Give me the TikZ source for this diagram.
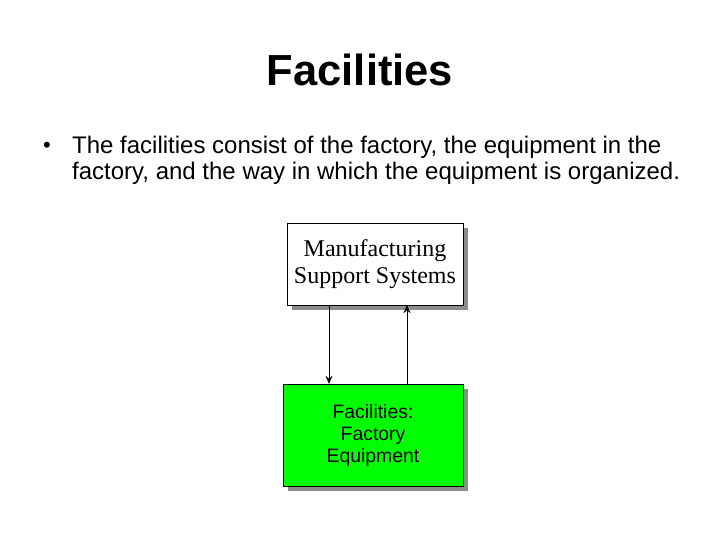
\documentclass[tikz,border=0pt]{standalone}
\usepackage{fontspec}
\setmainfont{Liberation Sans}
\newfontfamily\boxfont{Liberation Serif}
\usetikzlibrary{arrows,arrows.meta,positioning,shadows}

\begin{document}
\begin{tikzpicture}[
    x=1pt, y=-1pt,
    box/.style={rectangle, draw, thin, fill=white, align=center, inner sep=0pt,
        general shadow={fill=gray!90, shadow xshift=5pt, shadow yshift=-5pt}},
    arrow/.style={-{Stealth[length=8pt,width=7pt,inset=3pt]}}
]
\useasboundingbox (0,0) rectangle (720,540);
\node[font=\bfseries\fontsize{43.5}{48}\selectfont] (title) at (360,70) {Facilities};
\node[font=\fontsize{22}{26}\selectfont] (bullet) at (47,147) {\textbullet};
\node[font=\fontsize{24}{26}\selectfont, anchor=west, align=left, inner sep=0pt] (text) at (72,160)
    {The facilities consist of the factory, the equipment in the\\
     factory, and the way in which the equipment is organized.};
\node[box, minimum width=176, minimum height=82, font=\boxfont\fontsize{24}{27}\selectfont] (mss) at (375,264)
    {Manufacturing\\Support Systems};
\node[box, fill=green, minimum width=180, minimum height=102, font=\fontsize{19.4}{22}\selectfont] (fac) at (373,435)
    {Facilities:\\Factory\\Equipment};
\draw[arrow] (mss.south -| 329,0) -- (fac.north -| 329,0);
\draw[arrow] (fac.north -| 407,0) -- (mss.south -| 407,0);
\end{tikzpicture}
\end{document}
